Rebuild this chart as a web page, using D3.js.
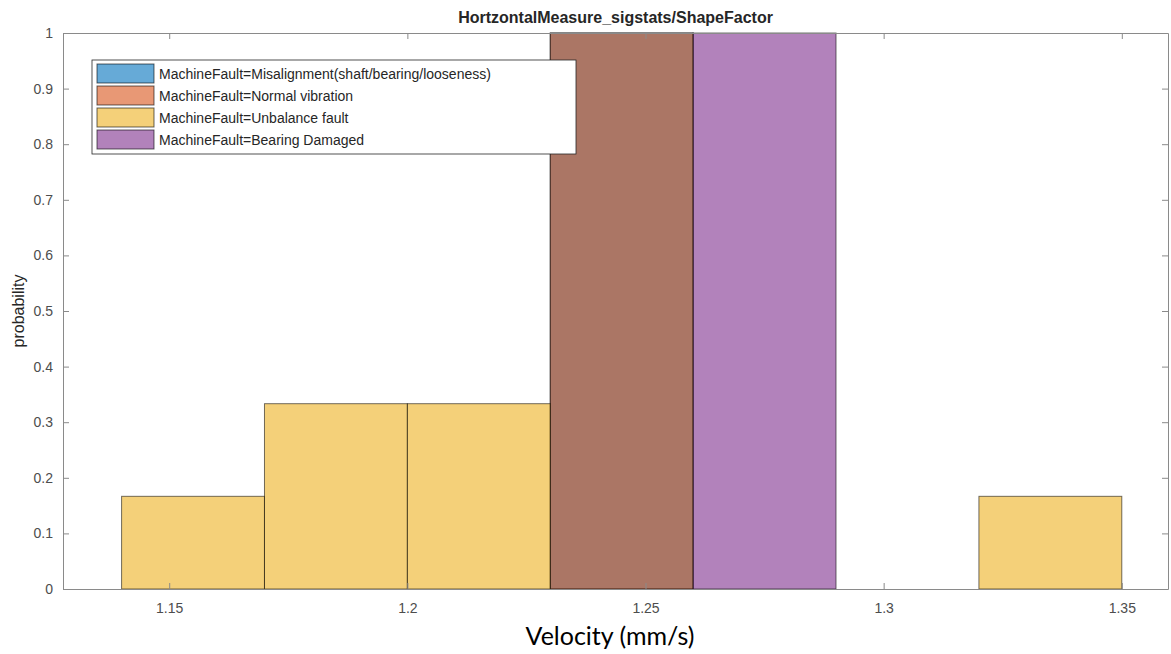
<!doctype html>
<html lang="en">
  <head>
    <meta charset="UTF-8" />
    <title>HortzontalMeasure_sigstats/ShapeFactor</title>
    <script src="https://d3js.org/d3.v7.min.js"></script>
    <style>
      body {
        margin: 0;
        padding: 0;
        background: #ffffff;
        font-family: 'Liberation Sans', Arial, sans-serif;
      }
      .tick text {
        fill: #4d4d4d;
        font-size: 14px;
      }
    </style>
  </head>
  <body>
    <div id="chart"></div>
    <script>
      // Histogram data (bin edges and probabilities per class)
      const classes = [
        'MachineFault=Misalignment(shaft/bearing/looseness)',
        'MachineFault=Normal vibration',
        'MachineFault=Unbalance fault',
        'MachineFault=Bearing Damaged',
      ]
      const colors = ['#0072BD', '#D95319', '#EDB120', '#7E2F8E']

      const misalignBins = [{ x0: 1.23, x1: 1.26, p: 1 }]
      const normalBins = [{ x0: 1.23, x1: 1.26, p: 1 }]
      const unbalanceBins = [
        { x0: 1.14, x1: 1.17, p: 0.1667 },
        { x0: 1.17, x1: 1.2, p: 0.3333 },
        { x0: 1.2, x1: 1.23, p: 0.3333 },
        { x0: 1.32, x1: 1.35, p: 0.1667 },
      ]
      const bearingBins = [{ x0: 1.26, x1: 1.29, p: 1 }]
      const series = [misalignBins, normalBins, unbalanceBins, bearingBins]

      const xTicks = [1.15, 1.2, 1.25, 1.3, 1.35]
      const yTicks = [0, 0.1, 0.2, 0.3, 0.4, 0.5, 0.6, 0.7, 0.8, 0.9, 1]

      const width = 1171
      const height = 654
      const margin = { top: 33, right: 3, bottom: 65, left: 63 }
      const innerW = width - margin.left - margin.right
      const innerH = height - margin.top - margin.bottom

      const svg = d3
        .select('#chart')
        .append('svg')
        .attr('width', width)
        .attr('height', height)

      const g = svg.append('g').attr('transform', `translate(${margin.left}, ${margin.top})`)

      const x = d3.scaleLinear().domain([1.1277, 1.3597]).range([0, innerW])
      const y = d3.scaleLinear().domain([0, 1]).range([innerH, 0])

      // Bars, drawn in series order with MATLAB face alpha
      series.forEach((bins, i) => {
        g.selectAll(`.bar-${i}`)
          .data(bins)
          .enter()
          .append('rect')
          .attr('x', (d) => x(d.x0))
          .attr('y', (d) => y(d.p))
          .attr('width', (d) => x(d.x1) - x(d.x0))
          .attr('height', (d) => y(0) - y(d.p))
          .attr('fill', colors[i])
          .attr('fill-opacity', 0.6)
          .attr('stroke', '#000')
          .attr('stroke-opacity', 0.55)
          .attr('stroke-width', 1)
      })

      // Axes (box on, ticks inward)
      const axisColor = '#262626'
      const styleAxis = (sel) => {
        sel.select('.domain').attr('stroke', '#8a8a8a')
        sel.selectAll('.tick line').attr('stroke', '#8a8a8a')
      }

      g.append('g')
        .attr('transform', `translate(0, ${innerH})`)
        .call(d3.axisBottom(x).tickValues(xTicks).tickFormat(d3.format('')).tickSizeInner(-6).tickSizeOuter(0).tickPadding(14))
        .call(styleAxis)

      g.append('g')
        .call(d3.axisTop(x).tickValues(xTicks).tickFormat('').tickSizeInner(-6).tickSizeOuter(0))
        .call(styleAxis)

      g.append('g')
        .call(d3.axisLeft(y).tickValues(yTicks).tickFormat(d3.format('')).tickSizeInner(-6).tickSizeOuter(0).tickPadding(10))
        .call(styleAxis)

      g.append('g')
        .attr('transform', `translate(${innerW}, 0)`)
        .call(d3.axisRight(y).tickValues(yTicks).tickFormat('').tickSizeInner(-6).tickSizeOuter(0))
        .call(styleAxis)

      // Title
      svg
        .append('text')
        .attr('x', margin.left + innerW / 2)
        .attr('y', 23)
        .attr('text-anchor', 'middle')
        .attr('font-size', '16px')
        .attr('font-weight', 'bold')
        .attr('fill', axisColor)
        .text('HortzontalMeasure_sigstats/ShapeFactor')

      // Axis labels
      svg
        .append('text')
        .attr('x', 610)
        .attr('y', 645)
        .attr('text-anchor', 'middle')
        .attr('font-family', 'Lato, sans-serif')
        .attr('font-size', '25px')
        .attr('fill', '#000')
        .text('Velocity (mm/s)')

      svg
        .append('text')
        .attr('transform', `translate(24, ${margin.top + innerH / 2}) rotate(-90)`)
        .attr('text-anchor', 'middle')
        .attr('font-size', '16px')
        .attr('fill', axisColor)
        .text('probability')

      // Legend
      const legend = svg.append('g').attr('transform', 'translate(92, 60)')
      legend
        .append('rect')
        .attr('width', 484)
        .attr('height', 94)
        .attr('fill', '#fff')
        .attr('stroke', '#262626')
        .attr('stroke-width', 0.8)

      classes.forEach((name, i) => {
        const row = legend.append('g').attr('transform', `translate(5, ${4 + i * 22})`)
        row
          .append('rect')
          .attr('width', 57)
          .attr('height', 19)
          .attr('fill', colors[i])
          .attr('fill-opacity', 0.6)
          .attr('stroke', '#000')
          .attr('stroke-opacity', 0.6)
        row
          .append('text')
          .attr('x', 62)
          .attr('y', 10)
          .attr('dy', '0.35em')
          .attr('font-size', '14px')
          .attr('fill', axisColor)
          .text(name)
      })
    </script>
  </body>
</html>
